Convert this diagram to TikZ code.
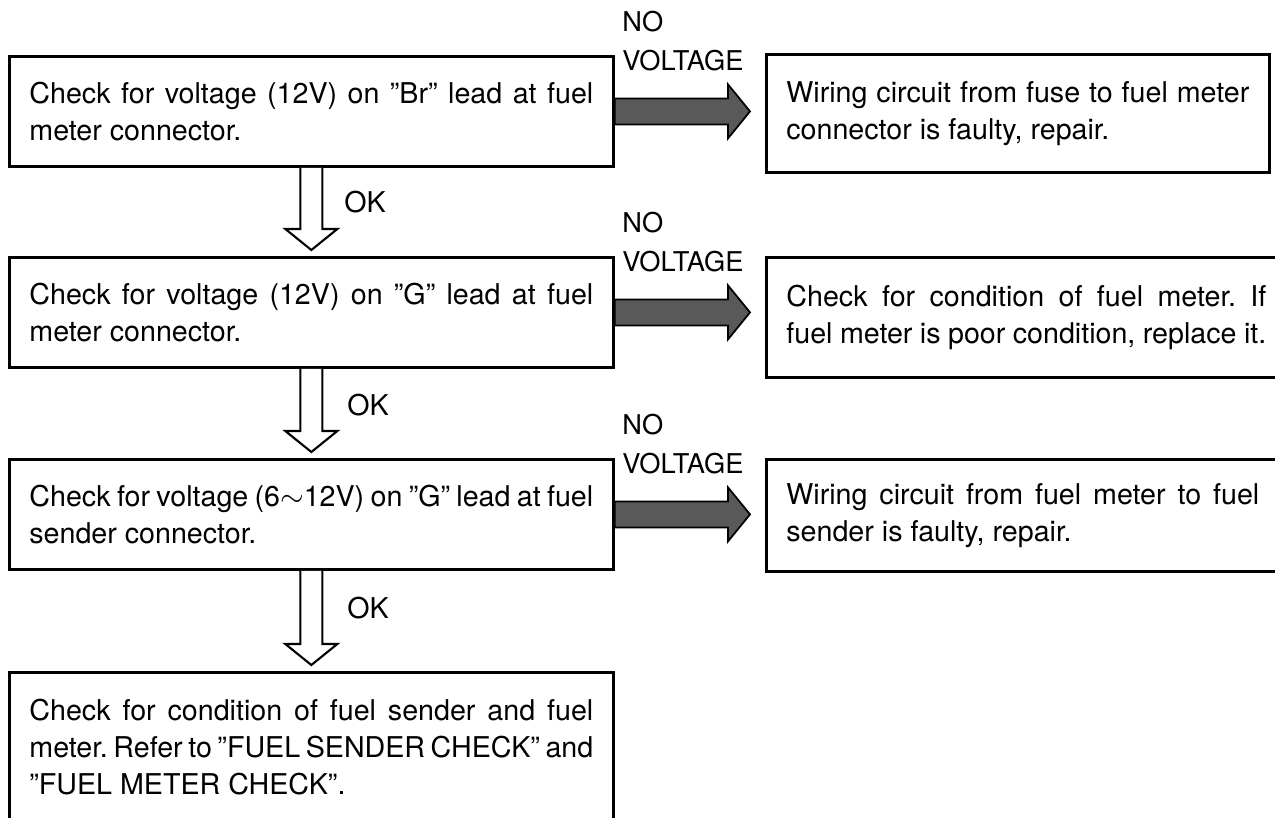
\documentclass[tikz,border=0pt]{standalone}
\usepackage{fontspec}
\setmainfont{TeX Gyre Heros}[WordSpace={1,1,1.8}]
\usetikzlibrary{calc}
\tolerance=9999
\frenchspacing
\tikzset{
  % Prüfkästen
  chk/.style={draw=black,line width=1.6pt,anchor=north west,inner xsep=0.4cm,
              inner ysep=0pt,text width=11.28cm,minimum height=2.2cm,align=justify,
              font=\fontsize{16.3}{21}\selectfont},
  res/.style={chk,text width=9.46cm},
  nv/.style={anchor=north west,inner sep=0pt,align=left,
             font=\fontsize{15.5}{22.1}\selectfont},
  ok/.style={inner sep=0pt,font=\fontsize{16.3}{21}\selectfont},
  % Pfeile
  okarrow/.style={draw=black,line width=1.2pt,line join=miter,fill=white},
  noarrow/.style={draw=black,line width=1pt,line join=miter,fill=black!65},
}
\begin{document}
\begin{tikzpicture}[x=0.02cm,y=-0.02cm]
\useasboundingbox (0,0) rectangle (1275,818);
\clip (0,0) rectangle (1275,818);
  \node[chk] (l1) at (8,55) {Check for voltage (12V) on ''Br'' lead at fuel\linebreak meter connector.};
  \node[chk] (l2) at (8,256) {Check for voltage (12V) on ''G'' lead at fuel\linebreak meter connector.};
  \node[chk] (l3) at (8,458) {Check for voltage (6${\sim}$12V) on ''G'' lead at fuel\linebreak sender connector.};
  \node[chk,minimum height=3cm] (l4) at (8,671) {Check for condition of fuel sender and fuel\linebreak meter. Refer to ''FUEL SENDER CHECK'' and\linebreak ''FUEL METER CHECK''.};
  \node[res,text width=9.26cm,minimum height=2.36cm] (r1) at (765,53) {Wiring circuit from fuse to fuel meter\linebreak connector is faulty, repair.};
  \node[res,text width=9.6cm,minimum height=2.4cm] (r2) at (765,256) {Check for condition of fuel meter. If\linebreak fuel meter is poor condition, replace it.};
  \node[res,minimum height=2.24cm] (r3) at (765,458) {Wiring circuit from fuel meter to fuel\linebreak sender is faulty, repair.};
  \node[nv] (nv1) at (622,11) {NO\\VOLTAGE};
  \node[nv] (nv2) at (622,212) {NO\\VOLTAGE};
  \node[nv] (nv3) at (622,414) {NO\\VOLTAGE};
  \node[ok] (ok1) at (365,202) {OK};
  \node[ok] (ok2) at (368,405) {OK};
  \node[ok] (ok3) at (368,608) {OK};
  \draw[noarrow] ($(l1.east)+(0,-13)$) -- ($(r1.west |- l1.east)+(-37,-13)$) -- ++(0,-14)
    -- ($(r1.west |- l1.east)+(-15,0)$) -- ($(r1.west |- l1.east)+(-37,27)$) -- ++(0,-14)
    -- ($(l1.east)+(0,13)$) -- cycle;
  \draw[noarrow] ($(l2.east)+(0,-13)$) -- ($(r2.west |- l2.east)+(-37,-13)$) -- ++(0,-14)
    -- ($(r2.west |- l2.east)+(-15,0)$) -- ($(r2.west |- l2.east)+(-37,27)$) -- ++(0,-14)
    -- ($(l2.east)+(0,13)$) -- cycle;
  \draw[noarrow] ($(l3.east)+(0,-13)$) -- ($(r3.west |- l3.east)+(-37,-13)$) -- ++(0,-14)
    -- ($(r3.west |- l3.east)+(-15,0)$) -- ($(r3.west |- l3.east)+(-37,27)$) -- ++(0,-14)
    -- ($(l3.east)+(0,13)$) -- cycle;
  \draw[okarrow] ($(l1.south)+(-11,0)$) -- ($(l2.north)+(-11,-27)$) -- ++(-15,0)
    -- ($(l2.north)+(0,-6)$) -- ($(l2.north)+(26,-27)$) -- ++(-15,0) -- ($(l1.south)+(11,0)$);
  \draw[okarrow] ($(l2.south)+(-11,0)$) -- ($(l3.north)+(-11,-27)$) -- ++(-15,0)
    -- ($(l3.north)+(0,-6)$) -- ($(l3.north)+(26,-27)$) -- ++(-15,0) -- ($(l2.south)+(11,0)$);
  \draw[okarrow] ($(l3.south)+(-11,0)$) -- ($(l4.north)+(-11,-27)$) -- ++(-15,0)
    -- ($(l4.north)+(0,-6)$) -- ($(l4.north)+(26,-27)$) -- ++(-15,0) -- ($(l3.south)+(11,0)$);
\end{tikzpicture}
\end{document}
